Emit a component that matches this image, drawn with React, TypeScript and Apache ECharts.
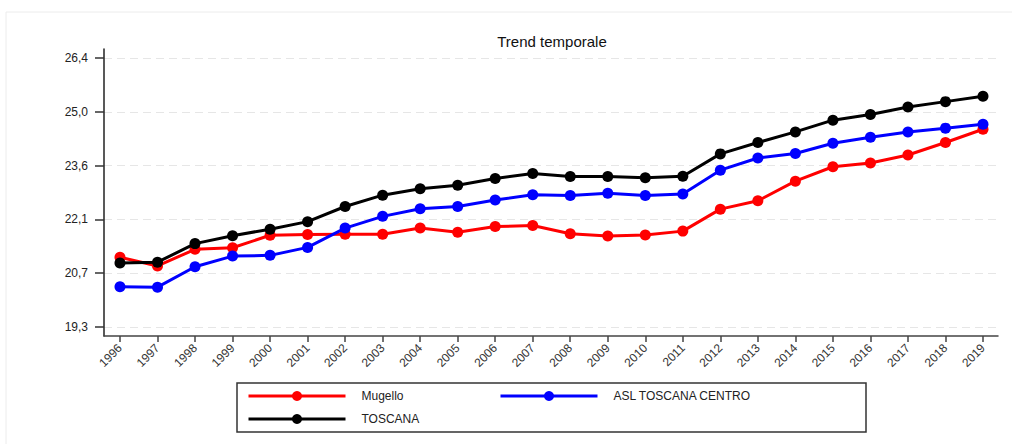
import React, { useEffect, useRef } from 'react';
import * as echarts from 'echarts';

const years = [
  1996, 1997, 1998, 1999, 2000, 2001, 2002, 2003, 2004, 2005, 2006, 2007,
  2008, 2009, 2010, 2011, 2012, 2013, 2014, 2015, 2016, 2017, 2018, 2019,
];
const mugello = [
  21.14, 20.91, 21.35, 21.39, 21.72, 21.74, 21.75, 21.75, 21.91, 21.8, 21.95, 21.98,
  21.76, 21.7, 21.73, 21.83, 22.41, 22.63, 23.15, 23.53, 23.63, 23.84, 24.17, 24.52,
];
const aslCentro = [
  20.36, 20.35, 20.89, 21.17, 21.19, 21.4, 21.91, 22.22, 22.42, 22.48, 22.65, 22.79,
  22.77, 22.83, 22.77, 22.81, 23.44, 23.76, 23.88, 24.15, 24.31, 24.45, 24.55, 24.65,
];
const toscana = [
  20.99, 21.01, 21.5, 21.71, 21.88, 22.08, 22.48, 22.78, 22.95, 23.04, 23.22, 23.35,
  23.27, 23.27, 23.24, 23.28, 23.87, 24.17, 24.45, 24.76, 24.91, 25.11, 25.25, 25.39,
];
const yTicks = [19.3, 20.72, 22.14, 23.56, 24.98, 26.4];

const seriesNames = ['Mugello', 'ASL TOSCANA CENTRO', 'TOSCANA'];
const seriesColors = ['#ff0000', '#0000ff', '#000000'];
const seriesValues = [mugello, aslCentro, toscana];

const FONT = '"Liberation Sans", Arial, sans-serif';

const App: React.FC = () => {
  const chartRef = useRef<HTMLDivElement>(null);

  useEffect(() => {
    document.body.style.margin = '0';
    if (!chartRef.current) return;
    const chart = echarts.init(chartRef.current, undefined, { renderer: 'svg' });

    const legendBase = {
      padding: 0,
      itemWidth: 97,
      itemHeight: 12.5,
      selectedMode: false,
      lineStyle: { width: 3 },
      textStyle: { fontFamily: FONT, fontSize: 12, color: '#222', padding: [0, 0, 0, 11] },
    };

    const option = {
      animation: false,
      backgroundColor: '#ffffff',
      title: {
        text: 'Trend temporale',
        left: 552,
        top: 29,
        textAlign: 'center',
        textStyle: { fontFamily: FONT, fontSize: 15, fontWeight: 'normal', color: '#111' },
      },
      graphic: [
        {
          type: 'rect',
          z: -10,
          silent: true,
          shape: { x: 6, y: 12, width: 1012, height: 440 },
          style: { fill: '#ffffff', stroke: '#ececec', lineWidth: 1 },
        },
        {
          type: 'rect',
          silent: true,
          shape: { x: 237, y: 383, width: 629, height: 49 },
          style: { fill: 'none', stroke: '#333', lineWidth: 1.5 },
        },
      ],
      legend: [
        { ...legendBase, data: [seriesNames[0]], left: 247, top: 390 },
        { ...legendBase, data: [seriesNames[1]], left: 499, top: 390 },
        { ...legendBase, data: [seriesNames[2]], left: 247, top: 413 },
      ],
      grid: { left: 104, right: 14, top: 49, bottom: 108, containLabel: false },
      xAxis: {
        type: 'value',
        min: 1995.574,
        max: 2019.4,
        axisLine: { show: true, lineStyle: { color: '#444', width: 1.5 } },
        axisTick: { show: true, length: 6, customValues: years, lineStyle: { color: '#444', width: 1.5 } },
        axisLabel: {
          customValues: years,
          rotate: 45,
          margin: 10,
          fontFamily: FONT,
          fontSize: 12,
          color: '#333',
          formatter: (v: number) => String(v),
        },
        splitLine: { show: false },
      },
      yAxis: {
        type: 'value',
        min: 19.06,
        max: 26.64,
        axisLine: { show: true, lineStyle: { color: '#222', width: 1.5 } },
        axisTick: { show: true, length: 9, customValues: yTicks, lineStyle: { color: '#333', width: 1.5 } },
        axisLabel: {
          customValues: yTicks,
          margin: 16,
          fontFamily: FONT,
          fontSize: 12,
          color: '#222',
          formatter: (v: number) => v.toFixed(1).replace('.', ','),
        },
        splitLine: { show: true, lineStyle: { color: '#e6e6e6', type: [8, 5], width: 1 } },
      },
      series: seriesNames.map((name, i) => ({
        name,
        type: 'line',
        data: years.map((y, j) => [y, seriesValues[i][j]]),
        symbol: 'circle',
        symbolSize: 11,
        showSymbol: true,
        color: seriesColors[i],
        lineStyle: { width: 3, color: seriesColors[i] },
        itemStyle: { color: seriesColors[i] },
        emphasis: { disabled: true },
        z: 2 + i,
      })),
    };

    // the title is centred by textAlign, nudge it to the reference position
    (option.title as any).left = 547;

    chart.setOption(option);
    return () => {
      chart.dispose();
    };
  }, []);

  return <div ref={chartRef} style={{ width: '1012px', height: '444px' }} />;
};

export default App;
